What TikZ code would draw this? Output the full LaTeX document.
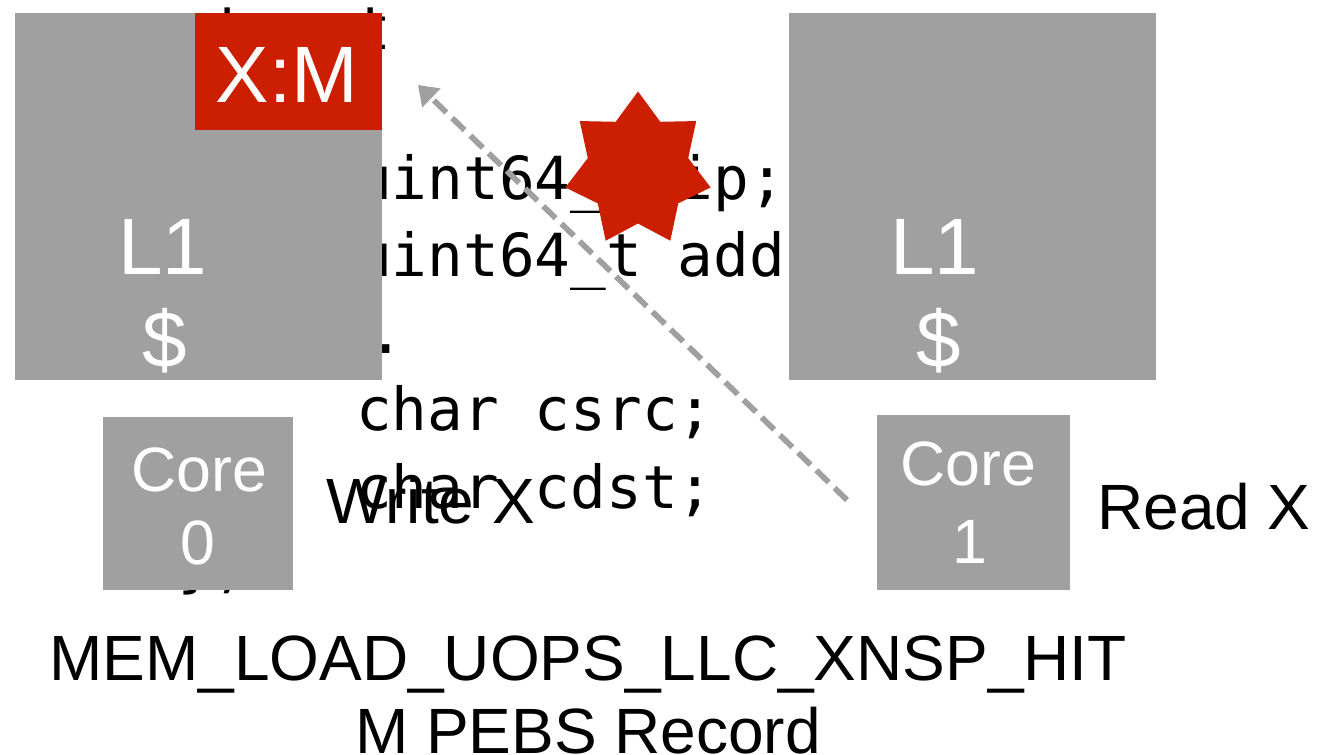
\documentclass[tikz,border=0pt]{standalone}
\usepackage{fontspec}
\setmainfont{Liberation Sans}
\newfontfamily\codefont{DejaVu Sans Mono}
\usetikzlibrary{arrows.meta}
\definecolor{boxgray}{RGB}{160,160,160}
\definecolor{hotred}{RGB}{204,30,0}
\begin{document}
\begin{tikzpicture}[x=0.75pt,y=-0.75pt,
  graybox/.style={fill=boxgray, inner sep=0pt, outer sep=0pt, anchor=north west},
  redbox/.style={fill=hotred, inner sep=0pt, outer sep=0pt, anchor=north west},
  codeline/.style={inner sep=0pt, anchor=base west, font=\codefont\fontsize{44.5}{50}\selectfont},
  bigwhite/.style={inner sep=0pt, anchor=base, text=white, font=\fontsize{60}{72}\selectfont},
  corewhite/.style={inner sep=0pt, anchor=base, text=white, font=\fontsize{47}{56}\selectfont},
  blacklbl/.style={inner sep=0pt, text=black, font=\fontsize{48}{58}\selectfont},
  arrowline/.style={draw=boxgray, line width=4.3pt, dash pattern=on 13pt off 6pt,
    -{Triangle[length=14pt,width=19pt]}}]
\useasboundingbox (0,0) rectangle (1317,755);
% code text (behind)
\node[codeline] (c1) at (177,50) {struct};
\node[codeline] (c2) at (177,124) {\{};
\node[codeline] (c3) at (356,200) {uint64\_t ip;};
\node[codeline] (c4) at (356,277) {uint64\_t addr;};
\node[codeline] (c5) at (356,354) {…};
\node[codeline] (c6) at (356,431) {char csrc;};
\node[codeline] (c7) at (356,508) {char cdst;};
\node[codeline] (c8) at (177,585) {\};};
% boxes
\node[graybox, minimum width=275.25pt, minimum height=275.25pt] (l1a) at (15,13) {};
\node[redbox, minimum width=140.25pt, minimum height=87.75pt] (xm) at (195,13) {};
\node[graybox, minimum width=275.25pt, minimum height=275.25pt] (l1b) at (789,13) {};
\node[graybox, minimum width=142.5pt, minimum height=129.75pt] (core0) at (103,417) {};
\node[graybox, minimum width=144.75pt, minimum height=131.25pt] (core1) at (877,415) {};
% box labels
\node[bigwhite] (l1atxt) at (163,275) {L1};
\node[bigwhite] (l1adol) at (165,368) {\$};
\node[bigwhite] (l1btxt) at (935,275) {L1};
\node[bigwhite] (l1bdol) at (939,368) {\$};
\node[bigwhite] (xmtxt) at (287,103) {X:M};
\node[corewhite] (c0a) at (199,491) {Core};
\node[corewhite] (c0b) at (198,564) {0};
\node[corewhite] (c1a) at (968,485) {Core};
\node[corewhite] (c1b) at (970,563) {1};
% star
\fill[hotred] plot[samples at={0,1,...,13}, variable=\k]
  ({638+(63+11.5*cos(180*\k))*cos(90+25.7143*\k)},
   {170-(66+12.5*cos(180*\k))*sin(90+25.7143*\k)}) -- cycle;
% arrow
\coordinate (arrS) at (847,500);
\coordinate (arrE) at (418,85);
\draw[arrowline] (arrS) -- (arrE);
% labels
\node[blacklbl, anchor=base west] (wx) at (326,523) {Write X};
\node[blacklbl, anchor=base west] (rx) at (1097,529) {Read X};
\node[blacklbl, anchor=base] (mem) at (588,680) {MEM\_LOAD\_UOPS\_LLC\_XNSP\_HIT};
\node[blacklbl, anchor=base] (pebs) at (588,753) {M PEBS Record};
\end{tikzpicture}
\end{document}
